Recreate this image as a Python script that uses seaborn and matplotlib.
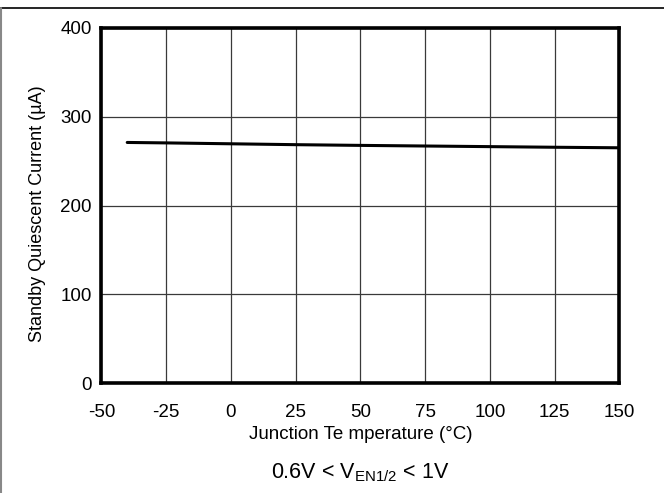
import matplotlib
matplotlib.use("Agg")
import matplotlib.pyplot as plt
from matplotlib.lines import Line2D
import seaborn as sns
import pandas as pd

# Standby quiescent current vs junction temperature
temperature_c = [-40, -25, 0, 25, 50, 75, 100, 125, 150]
standby_iq_ua = [271.0, 270.5, 269.5, 268.5, 267.7, 267.0, 266.3, 265.6, 265.0]

x_ticks = [-50, -25, 0, 25, 50, 75, 100, 125, 150]
y_ticks = [0, 100, 200, 300, 400]

sns.set_theme(style="white")
plt.rcParams["font.family"] = ["Liberation Sans", "DejaVu Sans"]

df = pd.DataFrame({"temp": temperature_c, "iq": standby_iq_ua})

fig = plt.figure(figsize=(6.64, 4.93), dpi=100)
ax = fig.add_axes([0.1526, 0.2225, 0.7801, 0.7211])

sns.lineplot(data=df, x="temp", y="iq", ax=ax, color="black", linewidth=2.2)

ax.set_xlim(-50, 150)
ax.set_ylim(0, 400)
ax.set_xticks(x_ticks)
ax.set_yticks(y_ticks)
ax.set_xticklabels([str(t) for t in x_ticks])
ax.set_yticklabels([str(t) for t in y_ticks])
ax.tick_params(axis="both", length=0, labelsize=13.5, colors="black")
ax.tick_params(axis="x", pad=15)
ax.tick_params(axis="y", pad=7)

ax.grid(True, color="#3a3a3a", linewidth=0.9)
for s in ax.spines.values():
    s.set_visible(True)
    s.set_color("black")
    s.set_linewidth(2.6)

ax.set_xlabel("Junction Te mperature (°C)", fontsize=13.5, color="black")
ax.xaxis.set_label_coords(0.5, (383.3 - 434) / 355.5, transform=ax.transAxes)
ax.xaxis.label.set_verticalalignment("center")
ax.set_ylabel("Standby Quiescent Current (µA)", fontsize=13, color="black")
ax.yaxis.set_label_coords((37 - 101.3) / 518, (383.3 - 214) / 355.5)
ax.yaxis.label.set_verticalalignment("center")

fig.text(0.5426, 1 - 473 / 493, r"0.6V < V$_{\mathregular{EN1/2}}$ < 1V",
         ha="center", va="center", fontsize=15.5, color="black")

# Outer frame lines
fig.add_artist(Line2D([0, 1], [1 - 8 / 493, 1 - 8 / 493], color="black", linewidth=1.2,
                      transform=fig.transFigure))
fig.add_artist(Line2D([0.001, 0.001], [0, 1 - 8 / 493], color="#888888", linewidth=1.5,
                      transform=fig.transFigure))

fig.savefig("out.png", dpi=100)
